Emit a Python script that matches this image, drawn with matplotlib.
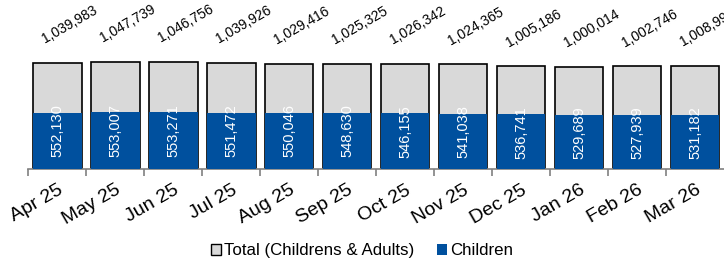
import matplotlib.pyplot as plt
import numpy as np
from matplotlib.patches import Patch

# data
months = ['Apr 25', 'May 25', 'Jun 25', 'Jul 25', 'Aug 25', 'Sep 25',
          'Oct 25', 'Nov 25', 'Dec 25', 'Jan 26', 'Feb 26', 'Mar 26']
total = [1039983, 1047739, 1046756, 1039926, 1029416, 1025325,
         1026342, 1024365, 1005186, 1000014, 1002746, 1008997]
children = [552130, 553007, 553271, 551472, 550046, 548630,
            546155, 541038, 536741, 529689, 527939, 531182]

blue = '#00509E'
grey = '#D9D9D9'

plt.rcParams['font.family'] = ['Liberation Sans', 'DejaVu Sans']

fig = plt.figure(figsize=(7.24, 2.63), dpi=100)
ax = fig.add_axes([0.039, 0.357, 0.961, 0.643])

x = np.arange(len(months))
w = 0.84
ax.bar(x, total, width=w, color=grey, edgecolor='black', linewidth=1.2, zorder=2)
ax.bar(x, children, width=w, color=blue, edgecolor='none', zorder=3)

for xi, t, c in zip(x, total, children):
    ax.annotate(f'{t:,}', (xi, t), xytext=(9, 12), textcoords='offset points',
                rotation=30, ha='center', va='bottom', fontsize=10,
                annotation_clip=False)
    ax.annotate(f'{c:,}', (xi, c), xytext=(0, 6), textcoords='offset points',
                rotation=90, ha='center', va='top', fontsize=10.5, color='white',
                zorder=4)

ax.set_xlim(-0.5, len(months) - 0.5)
ax.set_ylim(0, 1.65e6)
ax.set_yticks([])
for s in ['left', 'right', 'top']:
    ax.spines[s].set_visible(False)
ax.spines['bottom'].set_color('#808080')
ax.spines['bottom'].set_linewidth(1.2)

ax.set_xticks(x)
ax.set_xticklabels(months, rotation=30, ha='right', rotation_mode='anchor', fontsize=14)
ax.tick_params(axis='x', which='major', length=0, pad=9)
ax.set_xticks(np.arange(len(months)) - 0.5, minor=True)
ax.tick_params(axis='x', which='minor', length=5, color='#808080', width=1.2)

handles = [Patch(facecolor=grey, edgecolor='black', label='Total (Childrens & Adults)'),
           Patch(facecolor=blue, edgecolor='none', label='Children')]
fig.legend(handles=handles, loc='lower center', bbox_to_anchor=(0.5, -0.04), ncol=2,
           frameon=False, fontsize=12.2, handlelength=0.6, handleheight=0.6,
           handletextpad=0.2, columnspacing=1.3)

fig.savefig('out.png', dpi=100)
